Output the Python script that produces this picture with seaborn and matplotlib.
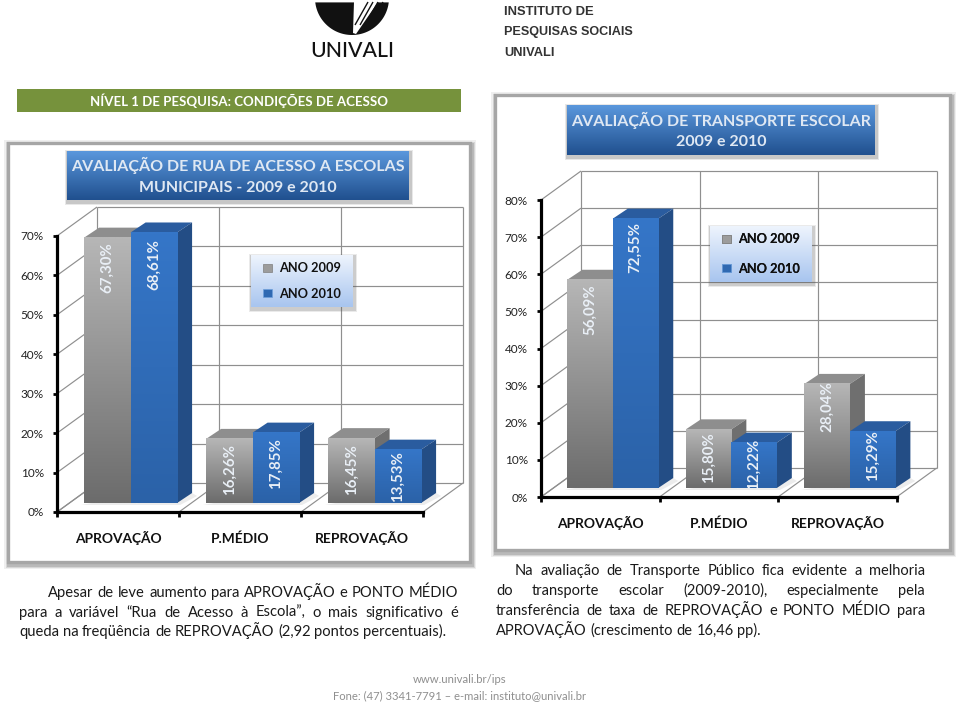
import numpy as np
import pandas as pd
import matplotlib
matplotlib.use("Agg")
import matplotlib.pyplot as plt
import seaborn as sns
from matplotlib.colors import to_rgb
from matplotlib.patches import Polygon, Rectangle, Patch
from matplotlib.transforms import Affine2D

categories = ["APROVAÇÃO", "P.MÉDIO", "REPROVAÇÃO"]
years = ["ANO 2009", "ANO 2010"]
rua_2009 = [67.30, 16.26, 16.45]
rua_2010 = [68.61, 17.85, 13.53]
transporte_2009 = [56.09, 15.80, 28.04]
transporte_2010 = [72.55, 12.22, 15.29]
titulo_rua = "AVALIAÇÃO DE RUA DE ACESSO A ESCOLAS\nMUNICIPAIS - 2009 e 2010"
titulo_transporte = "AVALIAÇÃO DE TRANSPORTE ESCOLAR\n2009 e 2010"
texto_rua = ["Apesar de leve aumento para APROVAÇÃO e PONTO MÉDIO",
             "para a variável “Rua de Acesso à Escola”, o mais significativo é",
             "queda na freqüência de REPROVAÇÃO (2,92 pontos percentuais)."]
texto_transporte = ["Na avaliação de Transporte Público fica evidente a melhoria",
                    "do transporte escolar (2009-2010), especialmente pela",
                    "transferência de taxa de REPROVAÇÃO e PONTO MÉDIO para",
                    "APROVAÇÃO (crescimento de 16,46 pp)."]

sns.set_theme(style="white")
plt.rcParams["font.family"] = ["Lato", "DejaVu Sans"]
W, H = 959, 703
fig = plt.figure(figsize=(W / 100, H / 100), dpi=100, facecolor="white")


def overlay(z):
    a = fig.add_axes([0, 0, 1, 1], zorder=z)
    a.set_xlim(0, W)
    a.set_ylim(H, 0)
    a.axis("off")
    a.patch.set_alpha(0)
    return a


bg = overlay(0)
fg = overlay(5)


def vgrad(a, x0, y0, x1, y1, top, bottom, zorder=2):
    arr = np.linspace(to_rgb(top), to_rgb(bottom), 64)[:, None, :]
    a.imshow(arr, extent=(x0, x1, y1, y0), aspect="auto", zorder=zorder, interpolation="bilinear")
    a.set_xlim(0, W)
    a.set_ylim(H, 0)


def panel(x0, y0, x1, y1):
    for grow, alpha in ((5, .10), (3.5, .18), (2.5, .25)):
        bg.add_patch(Rectangle((x0 - grow + 1, y0 - grow + 2), x1 - x0 + 2 * grow, y1 - y0 + 2 * grow,
                               fc="#666666", ec="none", alpha=alpha))
    bg.add_patch(Rectangle((x0, y0), x1 - x0, y1 - y0, fc="white", ec="#a6a6a6", lw=2.4))


def title_box(x0, y0, x1, y1, text, fs):
    for grow, alpha in ((3, .12), (2, .2)):
        fg.add_patch(Rectangle((x0 - grow + 1, y0 - grow + 2), x1 - x0 + 2 * grow, y1 - y0 + 2 * grow,
                               fc="#444444", ec="none", alpha=alpha, zorder=1))
    vgrad(fg, x0, y0, x1, y1, "#5a97dc", "#20508f")
    fg.text((x0 + x1) / 2, (y0 + y1) / 2 + .5, text, ha="center", va="center", color="#dfe8f3",
            fontsize=fs, fontweight="bold", linespacing=1.62, zorder=3)


def legend_box(x0, y0, x1, y1, row_gap):
    for grow, alpha in ((3, .12), (2, .2)):
        fg.add_patch(Rectangle((x0 - grow + 1, y0 - grow + 2), x1 - x0 + 2 * grow, y1 - y0 + 2 * grow,
                               fc="#555555", ec="none", alpha=alpha, zorder=1))
    vgrad(fg, x0, y0, x1, y1, "#eef4fd", "#a8c5ef")
    handles = [Patch(fc="#9c9c9c", ec="#7f7f7f", lw=.5), Patch(fc="#2f69b2", ec="#6fa0dc", lw=.5)]
    leg = fg.legend(handles, years, loc="center", bbox_to_anchor=((x0 + x1) / 2, (y0 + y1) / 2),
                    bbox_transform=fg.transData, frameon=False, handlelength=.65, handleheight=.65,
                    handletextpad=.55, labelspacing=row_gap, borderpad=0,
                    prop={"size": 9.2, "weight": "bold"})
    leg.set_zorder(4)
    for t in leg.get_texts():
        t.set_color("#111111")
    fg.add_artist(leg)


def chart(x0, x1, y0, y1, ymax, v09, v10, bar_width, bar_dx, drops):
    ax = fig.add_axes([x0 / W, 1 - y0 / H, (x1 - x0) / W, (y0 - y1) / H], zorder=2)
    ax.patch.set_alpha(0)
    df = pd.DataFrame({"cat": categories * 2,
                       "ano": [years[0]] * 3 + [years[1]] * 3,
                       "val": list(v09) + list(v10)})
    sns.barplot(df, x="cat", y="val", hue="ano", palette=["#9a9a9a", "#2f6cb6"], width=bar_width,
                gap=0, saturation=1, legend=False, ax=ax, zorder=4, linewidth=0)
    ax.set_xlim(-.5, 2.5)
    ax.set_ylim(0, ymax)
    px = (x1 - x0) / 3
    py = (y0 - y1) / ymax
    bx, by = 40 / px, 29 / py
    grid = dict(color="#8f8f8f", lw=.85, clip_on=False, zorder=1, solid_capstyle="butt")
    for v in range(0, ymax + 1, 10):
        ax.plot([-.5 + bx, 2.5 + bx], [v + by, v + by], **grid)
        ax.plot([-.5, -.5 + bx], [v, v + by], **grid)
    for c in (-.5, .5, 1.5, 2.5):
        ax.plot([c + bx, c + bx], [by, ymax + by], **grid)
        ax.plot([c, c + bx], [0, by], **grid)
    tr = ax.transData + Affine2D().translate(bar_dx, 9)
    dx, dy = 15 / px, 10 / py
    styles = [("#b6b6b6", "#6c6c6c", "#8e8e8e", "#6f6f6f"), ("#3576c8", "#2b62a8", "#2a5c9f", "#234d85")]
    k = 0
    for s, (cont, st) in enumerate(zip(ax.containers, styles)):
        for b in cont:
            x, w, h = b.get_x(), b.get_width(), b.get_height()
            z = 4 + s
            b.set_transform(tr)
            b.set_clip_on(False)
            b.set_zorder(z + .3)
            ax.add_patch(Polygon([(x - 3 / px, -2 / py), (x + w + 3 / px, -2 / py),
                                  (x + w + dx + 5 / px, dy - 3 / py), (x + w + dx, dy)],
                                 closed=True, fc="#ececec", ec="none", transform=tr, clip_on=False, zorder=2))
            ax.add_patch(Polygon([(x, h), (x + w, h), (x + w + dx, h + dy), (x + dx, h + dy)],
                                 closed=True, fc=st[2], ec="none", transform=tr, clip_on=False, zorder=z + .1))
            ax.add_patch(Polygon([(x + w, 0), (x + w + dx, dy), (x + w + dx, h + dy), (x + w, h)],
                                 closed=True, fc=st[3], ec="none", transform=tr, clip_on=False, zorder=z + .1))
            arr = np.linspace(to_rgb(st[0]), to_rgb(st[1]), 64)[:, None, :]
            ax.imshow(arr, extent=(x, x + w, 0, h), aspect="auto", transform=tr, zorder=z + .4,
                      interpolation="bilinear", clip_on=False)
            ax.annotate(f"{h:.2f}%".replace(".", ","), xy=(x + w / 2, h), xycoords=tr,
                        xytext=(0, -drops[k] * .72), textcoords="offset points", rotation=90,
                        ha="center", va="center", color="#e9eff6", fontsize=10.8, fontweight="bold", zorder=9)
            k += 1
    ax.set_xlim(-.5, 2.5)
    ax.set_ylim(0, ymax)
    ax.set_aspect("auto")
    ax.set_xlabel("")
    ax.set_ylabel("")
    sns.despine(ax=ax)
    for sp in ("left", "bottom"):
        ax.spines[sp].set_linewidth(2.3)
        ax.spines[sp].set_color("black")
        ax.spines[sp].set_zorder(8)
    ax.set_yticks(range(0, ymax + 1, 10))
    ax.set_yticklabels([f"{v}%" for v in range(0, ymax + 1, 10)], fontsize=8.5, color="#222222")
    ax.set_xticks([-.5, .5, 1.5, 2.5])
    ax.set_xticklabels([])
    ax.set_xticks([0, 1, 2], minor=True)
    ax.set_xticklabels(categories, minor=True, fontsize=9.9, fontweight="bold", color="#111111", va="baseline")
    ax.tick_params(axis="y", length=3, width=2, color="black", pad=6.5, left=True)
    ax.tick_params(axis="x", which="major", length=3.5, width=2, color="black", bottom=True)
    ax.tick_params(axis="x", which="minor", length=0, pad=22)
    return ax


def justified(lines, left, right, indent, baselines, fs):
    fig.canvas.draw()
    r = fig.canvas.get_renderer()
    for i, (line, yb) in enumerate(zip(lines, baselines)):
        x = left + (indent if i == 0 else 0)
        words = line.split(" ")
        arts = [fg.text(x, yb, w, fontsize=fs, color="#1a1a1a", va="baseline", ha="left") for w in words]
        widths = [a.get_window_extent(r).width for a in arts]
        if i == len(lines) - 1:
            probe = fg.text(0, 0, "n n", fontsize=fs)
            probe2 = fg.text(0, 0, "nn", fontsize=fs)
            gap = probe.get_window_extent(r).width - probe2.get_window_extent(r).width
            probe.remove()
            probe2.remove()
        else:
            gap = (right - x - sum(widths)) / (len(words) - 1)
        for a, w in zip(arts, widths):
            a.set_x(x)
            x += w + gap


# header
fg.add_patch(Rectangle((17, 89), 444, 23, fc="#76923c", ec="none"))
fg.text(239, 100.5, "NÍVEL 1 DE PESQUISA: CONDIÇÕES DE ACESSO", ha="center", va="center", color="white",
        fontsize=9.5, fontweight="bold")
theta = np.linspace(0, np.pi, 80)
arc = np.c_[352 + 37 * np.cos(theta), -2 + 37 * np.sin(theta)]
arc = arc[arc[:, 1] >= 2]
fg.add_patch(Polygon(arc, closed=True, fc="#111111", ec="none"))
fg.add_patch(Polygon([(353, 33), (354, 2), (378, 2), (356, 34)], closed=True, fc="white", ec="none"))
for s in (0, 5, 10, 15):
    fg.plot([355 + s, 368 + s], [25, 2], color="#111111", lw=1.0, solid_capstyle="butt")
fg.text(352.5, 51, "UNIVALI", ha="center", va="center", fontsize=15.3, color="#111111", fontweight="medium")
for t, yb, fs in (("INSTITUTO DE", 15, 9.4), ("PESQUISAS SOCIAIS", 35, 9.1), ("UNIVALI", 56, 9.3)):
    fg.text(504, yb, t, ha="left", va="baseline", fontsize=fs, fontweight="bold",
            family=["Liberation Sans"], color="#333333")

# left panel
panel(8, 143, 470, 562)
title_box(67, 151, 409, 200, titulo_rua, 11.5)
chart(57, 423, 512, 236, 70, rua_2009, rua_2010, .762, 12.6, [30, 31, 31, 32, 31, 27])
legend_box(251, 255, 353, 307, 1.05)

# right panel
panel(495, 95, 950, 550)
title_box(567, 105, 875, 155, titulo_transporte, 11.5)
chart(541, 896.7, 497, 200, 80, transporte_2009, transporte_2010, .767, 12.5, [30, 28, 23, 29, 22, 24])
legend_box(710, 226, 812, 282, 1.35)

# comments and footer
justified(texto_rua, 19, 458, 29, [597, 617, 636], 10.6)
justified(texto_transporte, 496, 925, 19, [575, 595, 615, 635], 10.5)
fg.text(460, 683, "www.univali.br/ips", ha="center", va="baseline", fontsize=8.2, color="#8f8f8f")
fg.text(460, 699, "Fone: (47) 3341-7791 – e-mail: instituto@univali.br", ha="center", va="baseline",
        fontsize=8.1, color="#8f8f8f")

fig.savefig("out.png", dpi=100)
